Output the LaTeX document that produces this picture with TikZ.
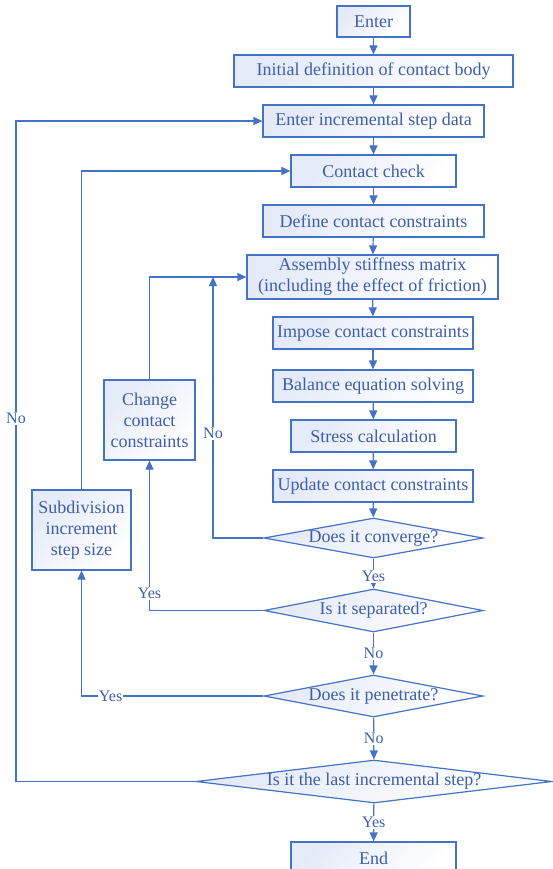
\documentclass[tikz,border=0pt]{standalone}
\usepackage{fontspec}
\setmainfont{Liberation Serif}
\usetikzlibrary{shapes.geometric,arrows.meta}
\definecolor{lineblue}{RGB}{68,114,196}
\definecolor{textblue}{RGB}{62,94,172}
\definecolor{fillblue}{RGB}{228,234,247}

\begin{document}
\begin{tikzpicture}[x=1pt, y=-1pt,
    box/.style={draw=lineblue, line width=1.2pt, top color=fillblue, bottom color=white, shading angle=45,
                text=textblue, inner sep=2pt, align=center, font=\fontsize{18}{21}\selectfont},
    decision/.style={box, diamond, inner sep=0pt},
    flow/.style={draw=lineblue, line width=1.2pt, -{Triangle[length=9pt,width=8pt]}},
    lbl/.style={fill=white, text=textblue, inner sep=1pt, font=\fontsize{16}{18}\selectfont}]
    \useasboundingbox (0,0) rectangle (552,869);

    % main column
    \node [box, minimum width=73pt, minimum height=31pt] (enter) at (373.5,21.5) {Enter};
    \node [box, minimum width=279pt, minimum height=32pt] (init) at (373.5,71) {Initial definition of contact body};
    \node [box, minimum width=221pt, minimum height=32pt] (incr) at (373.5,121) {Enter incremental step data};
    \node [box, minimum width=165pt, minimum height=32pt] (check) at (373.5,171) {Contact check};
    \node [box, minimum width=221pt, minimum height=32pt] (define) at (373.5,221) {Define contact constraints};
    \node [box, minimum width=251pt, minimum height=44pt] (assem) at (372.5,277) {Assembly stiffness matrix\\(including the effect of friction)};
    \node [box, minimum width=200pt, minimum height=32pt] (impose) at (373,333) {Impose contact constraints};
    \node [box, minimum width=200pt, minimum height=32pt] (balance) at (373,386) {Balance equation solving};
    \node [box, minimum width=165pt, minimum height=32pt] (stress) at (373.5,436) {Stress calculation};
    \node [box, minimum width=200pt, minimum height=32pt] (update) at (373,486) {Update contact constraints};
    \node [decision, minimum width=219pt, minimum height=40pt] (conv) at (373.5,538) {\makebox[0pt]{Does it converge?}};
    \node [decision, minimum width=219pt, minimum height=43pt] (sep) at (373.5,610.5) {\makebox[0pt]{Is it separated?}};
    \node [decision, minimum width=219pt, minimum height=42pt] (pen) at (373.5,696) {\makebox[0pt]{Does it penetrate?}};
    \node [decision, minimum width=356pt, minimum height=43pt] (last) at (374,781.5) {\makebox[0pt]{Is it the last incremental step?}};
    \node [box, minimum width=165pt, minimum height=32pt] (finish) at (373.5,858) {End};

    % side boxes
    \node [box, minimum width=91pt, minimum height=80pt] (change) at (149.5,420) {Change\\contact\\constraints};
    \node [box, minimum width=99pt, minimum height=80pt] (subdiv) at (81.5,530) {Subdivision\\increment\\step size};

    \coordinate (join) at (213,277);
    \coordinate (farleft) at (16,0);

    \draw [flow] (enter) -- (init);
    \draw [flow] (init) -- (incr);
    \draw [flow] (incr) -- (check);
    \draw [flow] (check) -- (define);
    \draw [flow] (define) -- (assem);
    \draw [flow] (assem) -- (impose);
    \draw [flow] (impose) -- (balance);
    \draw [flow] (balance) -- (stress);
    \draw [flow] (stress) -- (update);
    \draw [flow] (update) -- (conv);
    \draw [flow] (conv) -- node[lbl, pos=0.6] {Yes} (sep);
    \draw [flow] (sep) -- node[lbl] {No} (pen);
    \draw [flow] (pen) -- node[lbl] {No} (last);
    \draw [flow] (last) -- node[lbl] {Yes} (finish);

    % loops back
    \draw [flow] (conv.west) -| node[lbl, pos=0.7] {No} (join);
    \draw [flow] (sep.west) -| node[lbl, pos=0.557] {Yes} (change.south);
    \draw [flow] (change.north) |- (assem.west);
    \draw [flow] (pen.west) -| node[lbl, pos=0.42] {Yes} (subdiv.south);
    \draw [flow] (subdiv.north) |- (check.west);
    \draw [flow] (last.west) -- (last.west -| farleft) |- node[lbl, pos=0.275] {No} (incr.west);
\end{tikzpicture}
\end{document}
